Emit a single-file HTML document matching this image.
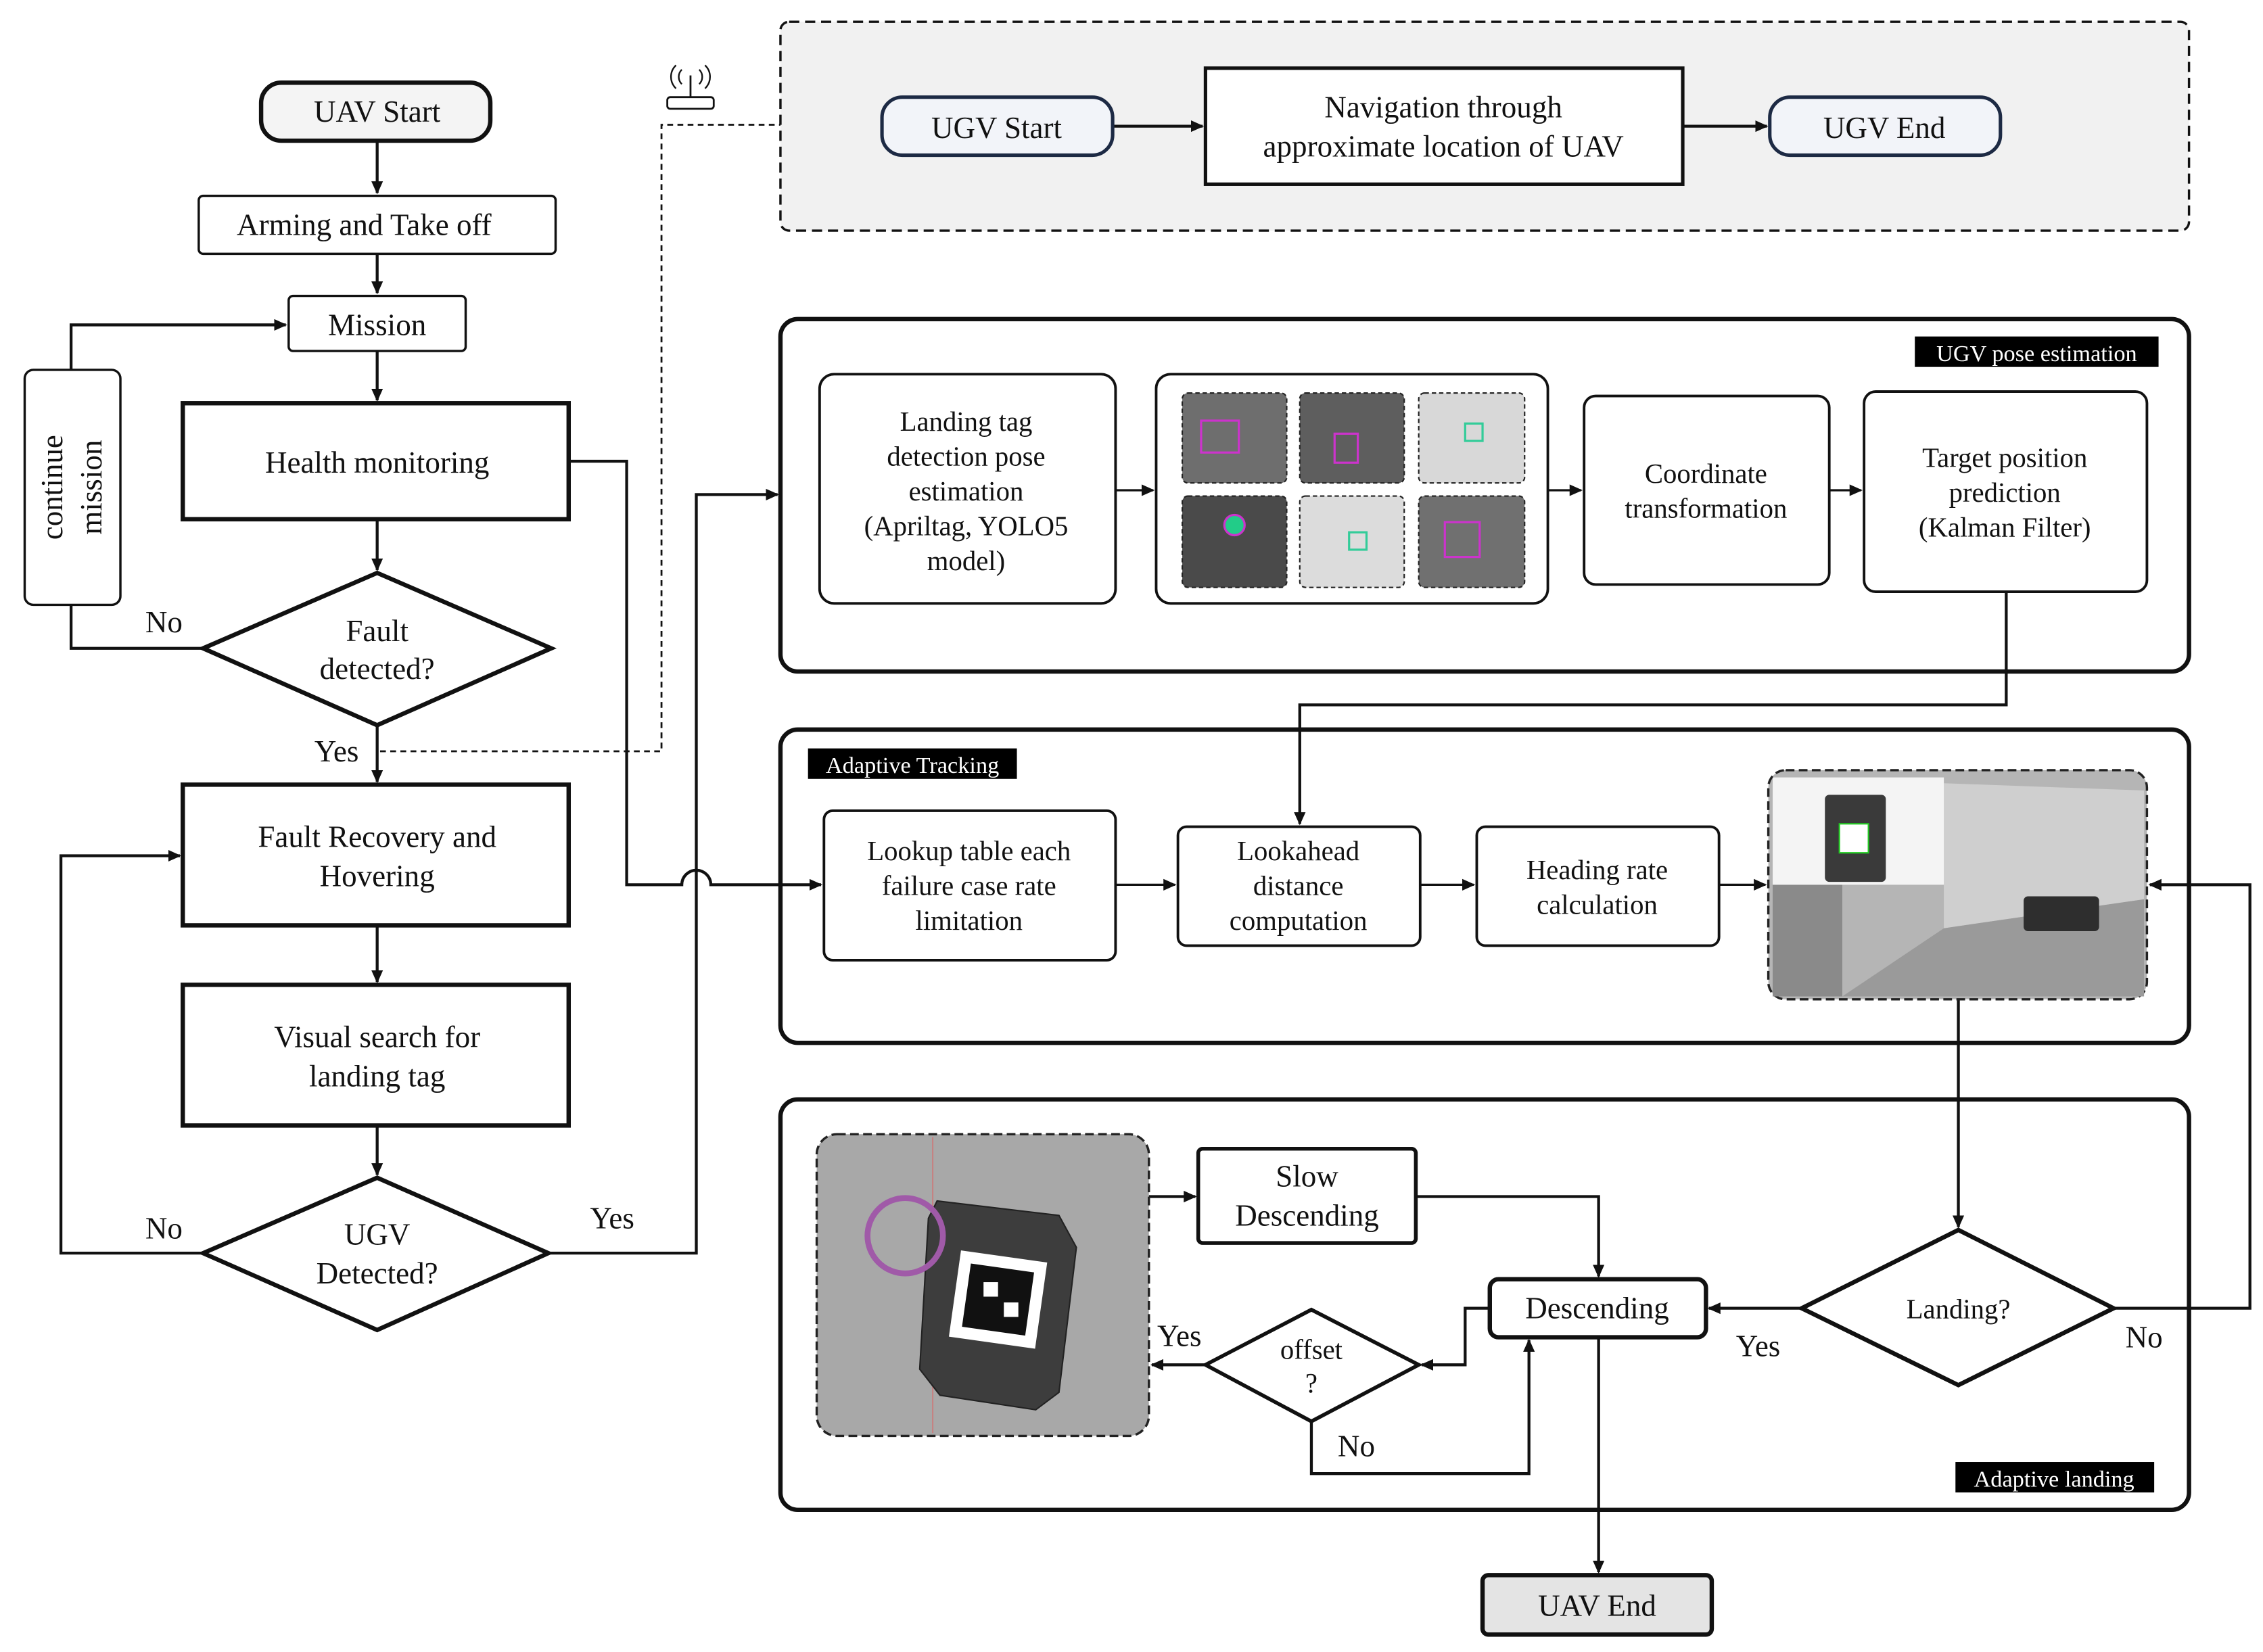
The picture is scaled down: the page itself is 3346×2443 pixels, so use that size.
<!DOCTYPE html>
<html><head><meta charset="utf-8"><style>
html,body{margin:0;padding:0;background:#fff;}
svg{display:block;}
text{font-family:"Liberation Serif",serif;fill:#111;}
</style></head><body>
<svg width="3346" height="2443" viewBox="0 0 1560 1139" xmlns="http://www.w3.org/2000/svg">
<defs>
<marker id="a" markerWidth="10" markerHeight="10" refX="8" refY="5" orient="auto" markerUnits="userSpaceOnUse"><path d="M0,1 L9,5 L0,9 z" fill="#111"/></marker>
</defs>
<!-- containers -->
<g fill="none" stroke="#111" stroke-width="2">
<rect x="538" y="15" width="971" height="144" rx="6" fill="#f1f1f1" stroke-dasharray="7,4" stroke-width="1.6"/>
<rect x="538" y="220" width="971" height="243" rx="12" fill="#fff" stroke-width="3"/>
<rect x="538" y="503" width="971" height="216" rx="12" fill="#fff" stroke-width="3"/>
<rect x="538" y="758" width="971" height="283" rx="12" fill="#fff" stroke-width="3"/>
</g>
<!-- connectors -->
<g fill="none" stroke="#111" stroke-width="2">
<line x1="260" y1="97" x2="260" y2="133" marker-end="url(#a)"/>
<line x1="260" y1="175" x2="260" y2="202" marker-end="url(#a)"/>
<polyline points="49,255 49,224 197,224" marker-end="url(#a)"/>
<line x1="260" y1="242" x2="260" y2="276" marker-end="url(#a)"/>
<line x1="260" y1="358" x2="260" y2="393" marker-end="url(#a)"/>
<polyline points="140,447 49,447 49,417"/>
<line x1="260" y1="500" x2="260" y2="539" marker-end="url(#a)"/>
<polyline points="262,518 456,518 456,86 538,86" stroke-dasharray="4,3" stroke-width="1.3"/>
<line x1="260" y1="638" x2="260" y2="677" marker-end="url(#a)"/>
<line x1="260" y1="776" x2="260" y2="810" marker-end="url(#a)"/>
<polyline points="140,864 42,864 42,590 124,590" marker-end="url(#a)"/>
<polyline points="378,864 480,864 480,341 536,341" marker-end="url(#a)"/>
<path d="M392,318 L432,318 L432,610 L470,610 A10,10 0 0 1 490,610 L566,610" marker-end="url(#a)"/>
<line x1="767" y1="87" x2="829" y2="87" marker-end="url(#a)"/>
<line x1="1160" y1="87" x2="1218" y2="87" marker-end="url(#a)"/>
<line x1="769" y1="338" x2="795" y2="338" marker-end="url(#a)" stroke-width="1.5"/>
<line x1="1067" y1="338" x2="1090" y2="338" marker-end="url(#a)" stroke-width="1.5"/>
<line x1="1261" y1="338" x2="1283" y2="338" marker-end="url(#a)" stroke-width="1.5"/>
<polyline points="1383,408 1383,486 896,486 896,568" marker-end="url(#a)"/>
<line x1="769" y1="610" x2="810" y2="610" marker-end="url(#a)" stroke-width="1.5"/>
<line x1="979" y1="610" x2="1016" y2="610" marker-end="url(#a)" stroke-width="1.5"/>
<line x1="1185" y1="610" x2="1217" y2="610" marker-end="url(#a)" stroke-width="1.5"/>
<polyline points="1457,902 1551,902 1551,610 1482,610" marker-end="url(#a)"/>
<line x1="1350" y1="689" x2="1350" y2="846" marker-end="url(#a)"/>
<line x1="792" y1="825" x2="824" y2="825" marker-end="url(#a)"/>
<polyline points="976,825 1102,825 1102,880" marker-end="url(#a)"/>
<line x1="1242" y1="902" x2="1178" y2="902" marker-end="url(#a)"/>
<polyline points="1027,902 1010,902 1010,941 980,941" marker-end="url(#a)"/>
<line x1="831" y1="941" x2="794" y2="941" marker-end="url(#a)"/>
<polyline points="904,980 904,1016 1054,1016 1054,924" marker-end="url(#a)"/>
<line x1="1102" y1="922" x2="1102" y2="1084" marker-end="url(#a)"/>
</g>
<!-- nodes -->
<g fill="none" stroke="#111" stroke-width="2">
<rect x="180" y="57" width="158" height="40" rx="14" fill="#f4f4f4" stroke-width="3"/>
<rect x="137" y="135" width="246" height="40" rx="3" fill="#fff" stroke-width="1.6"/>
<rect x="199" y="204" width="122" height="38" rx="3" fill="#fff" stroke-width="1.6"/>
<rect x="17" y="255" width="66" height="162" rx="6" fill="#fff" stroke-width="1.6"/>
<rect x="126" y="278" width="266" height="80" fill="#fff" stroke-width="3"/>
<polygon points="140,447 260,395 380,447 260,500" fill="#fff" stroke-width="3"/>
<rect x="126" y="541" width="266" height="97" fill="#fff" stroke-width="3"/>
<rect x="126" y="679" width="266" height="97" fill="#fff" stroke-width="3"/>
<polygon points="140,864 260,812 378,864 260,917" fill="#fff" stroke-width="3"/>
<rect x="460" y="67" width="32" height="8" rx="2" stroke-width="1.3"/>
<line x1="476" y1="67" x2="476" y2="52" stroke-width="1.3"/>
<path d="M470,48 a7,7 0 0 0 0,10 M482,48 a7,7 0 0 1 0,10 M466,45 a11,11 0 0 0 0,16 M486,45 a11,11 0 0 1 0,16" stroke-width="1.1"/>
<rect x="608" y="67" width="159" height="40" rx="14" fill="#f2f4f9" stroke="#1d2a44" stroke-width="2.4"/>
<rect x="831" y="47" width="329" height="80" fill="#fff" stroke-width="2.4"/>
<rect x="1220" y="67" width="159" height="40" rx="14" fill="#f2f4f9" stroke="#1d2a44" stroke-width="2.4"/>
<rect x="565" y="258" width="204" height="158" rx="10" fill="#fff" stroke-width="1.8"/>
<rect x="797" y="258" width="270" height="158" rx="10" fill="#fff" stroke-width="1.8"/>
<rect x="1092" y="273" width="169" height="130" rx="8" fill="#fff" stroke-width="1.8"/>
<rect x="1285" y="270" width="195" height="138" rx="8" fill="#fff" stroke-width="1.8"/>
<rect x="568" y="559" width="201" height="103" rx="6" fill="#fff" stroke-width="1.8"/>
<rect x="812" y="570" width="167" height="82" rx="6" fill="#fff" stroke-width="1.8"/>
<rect x="1018" y="570" width="167" height="82" rx="6" fill="#fff" stroke-width="1.8"/>
<rect x="826" y="792" width="150" height="65" rx="3" fill="#fff" stroke-width="2.6"/>
<rect x="1027" y="882" width="149" height="40" rx="6" fill="#fff" stroke-width="3"/>
<polygon points="1242,902 1350,848 1457,902 1350,955" fill="#fff" stroke-width="3"/>
<polygon points="831,941 904,903 978,941 904,980" fill="#fff" stroke-width="2.6"/>
<rect x="1022" y="1086" width="158" height="41" rx="4" fill="#e4e4e4" stroke-width="3"/>
</g>
<!-- thumbnails -->
<g stroke="#222" stroke-width="1" stroke-dasharray="3,2">
<rect x="815" y="271" width="72" height="62" rx="4" fill="#6e6e6e"/>
<rect x="896" y="271" width="72" height="62" rx="4" fill="#5e5e5e"/>
<rect x="978" y="271" width="73" height="62" rx="4" fill="#d8d8d8"/>
<rect x="815" y="342" width="72" height="63" rx="4" fill="#4a4a4a"/>
<rect x="896" y="342" width="72" height="63" rx="4" fill="#dcdcdc"/>
<rect x="978" y="342" width="73" height="63" rx="4" fill="#707070"/>
</g>
<g fill="none" stroke-width="1.5">
<rect x="828" y="290" width="26" height="22" stroke="#c3c"/>
<rect x="920" y="299" width="16" height="20" stroke="#c3c"/>
<rect x="1010" y="292" width="12" height="12" stroke="#3c9"/>
<circle cx="851" cy="362" r="7" stroke="#c3c" fill="#2c8"/>
<rect x="930" y="367" width="12" height="12" stroke="#3c9"/>
<rect x="996" y="360" width="24" height="24" stroke="#c3c"/>
</g>
<!-- tracking image -->
<g>
<rect x="1219" y="531" width="261" height="158" rx="12" fill="#b5b5b5" stroke="#222" stroke-width="1.6" stroke-dasharray="6,3"/>
<polygon points="1340,540 1478,545 1478,620 1340,640" fill="#cfcfcf"/>
<polygon points="1270,687 1340,640 1478,620 1478,687" fill="#9a9a9a"/>
<rect x="1222" y="610" width="48" height="77" fill="#8a8a8a"/>
<rect x="1222" y="536" width="118" height="74" fill="#f4f4f4"/>
<rect x="1258" y="548" width="42" height="60" rx="3" fill="#3a3a3a"/>
<rect x="1268" y="568" width="20" height="20" fill="#fff" stroke="#2c2" stroke-width="1"/>
<rect x="1395" y="618" width="52" height="24" rx="3" fill="#2e2e2e"/>
</g>
<!-- landing image -->
<g>
<rect x="563" y="782" width="229" height="208" rx="14" fill="#a8a8a8" stroke="#222" stroke-width="1.6" stroke-dasharray="6,3"/>
<line x1="643" y1="784" x2="643" y2="988" stroke="#c77" stroke-width="0.8"/>
<polygon points="646,828 730,838 742,860 730,960 714,972 648,962 634,944 640,840" fill="#3d3d3d" stroke="#222"/>
<rect x="658" y="866" width="60" height="60" fill="#fff" transform="rotate(8 688 896)"/>
<rect x="666" y="874" width="44" height="44" fill="#111" transform="rotate(8 688 896)"/>
<rect x="678" y="884" width="10" height="10" fill="#fff"/><rect x="692" y="898" width="10" height="10" fill="#fff"/>
<circle cx="624" cy="852" r="26" fill="none" stroke="#a05aa8" stroke-width="4"/>
</g>
<!-- labels -->
<rect x="1320" y="232" width="168" height="21" fill="#000"/>
<text x="1404" y="249" font-size="16" text-anchor="middle" style="fill:#fff">UGV pose estimation</text>
<rect x="557" y="516" width="144" height="21" fill="#000"/>
<text x="629" y="533" font-size="16" text-anchor="middle" style="fill:#fff">Adaptive Tracking</text>
<rect x="1348" y="1008" width="137" height="21" fill="#000"/>
<text x="1416" y="1025" font-size="16" text-anchor="middle" style="fill:#fff">Adaptive landing</text>
<g font-size="21" text-anchor="middle">
<text x="260" y="84">UAV Start</text>
<text x="251" y="162">Arming and Take off</text>
<text x="260" y="231">Mission</text>
<text x="260" y="326">Health monitoring</text>
<text x="260" y="442">Fault</text>
<text x="260" y="468">detected?</text>
<text x="113" y="436">No</text>
<text x="232" y="525">Yes</text>
<text x="260" y="584">Fault Recovery and</text>
<text x="260" y="611">Hovering</text>
<text x="260" y="722">Visual search for</text>
<text x="260" y="749">landing tag</text>
<text x="260" y="858">UGV</text>
<text x="260" y="885">Detected?</text>
<text x="113" y="854">No</text>
<text x="422" y="847">Yes</text>
<text x="687" y="95">UGV Start</text>
<text x="995" y="81">Navigation through</text>
<text x="995" y="108">approximate location of UAV</text>
<text x="1299" y="95">UGV End</text>
<text x="901" y="818">Slow</text>
<text x="901" y="845">Descending</text>
<text x="1101" y="909">Descending</text>
<text x="1212" y="935">Yes</text>
<text x="1478" y="929">No</text>
<text x="813" y="928">Yes</text>
<text x="935" y="1004">No</text>
<text x="1101" y="1114">UAV End</text>
</g>
<g font-size="21" text-anchor="middle" transform="rotate(-90 49 336)">
<text x="49" y="330">continue</text>
<text x="49" y="357">mission</text>
</g>
<g font-size="19" text-anchor="middle">
<text x="666" y="297">Landing tag</text>
<text x="666" y="321">detection pose</text>
<text x="666" y="345">estimation</text>
<text x="666" y="369">(Apriltag, YOLO5</text>
<text x="666" y="393">model)</text>
<text x="1176" y="333">Coordinate</text>
<text x="1176" y="357">transformation</text>
<text x="1382" y="322">Target position</text>
<text x="1382" y="346">prediction</text>
<text x="1382" y="370">(Kalman Filter)</text>
<text x="668" y="593">Lookup table each</text>
<text x="668" y="617">failure case rate</text>
<text x="668" y="641">limitation</text>
<text x="895" y="593">Lookahead</text>
<text x="895" y="617">distance</text>
<text x="895" y="641">computation</text>
<text x="1101" y="606">Heading rate</text>
<text x="1101" y="630">calculation</text>
<text x="1350" y="909">Landing?</text>
<text x="904" y="937">offset</text>
<text x="904" y="960">?</text>
</g>
</svg>
</body></html>
